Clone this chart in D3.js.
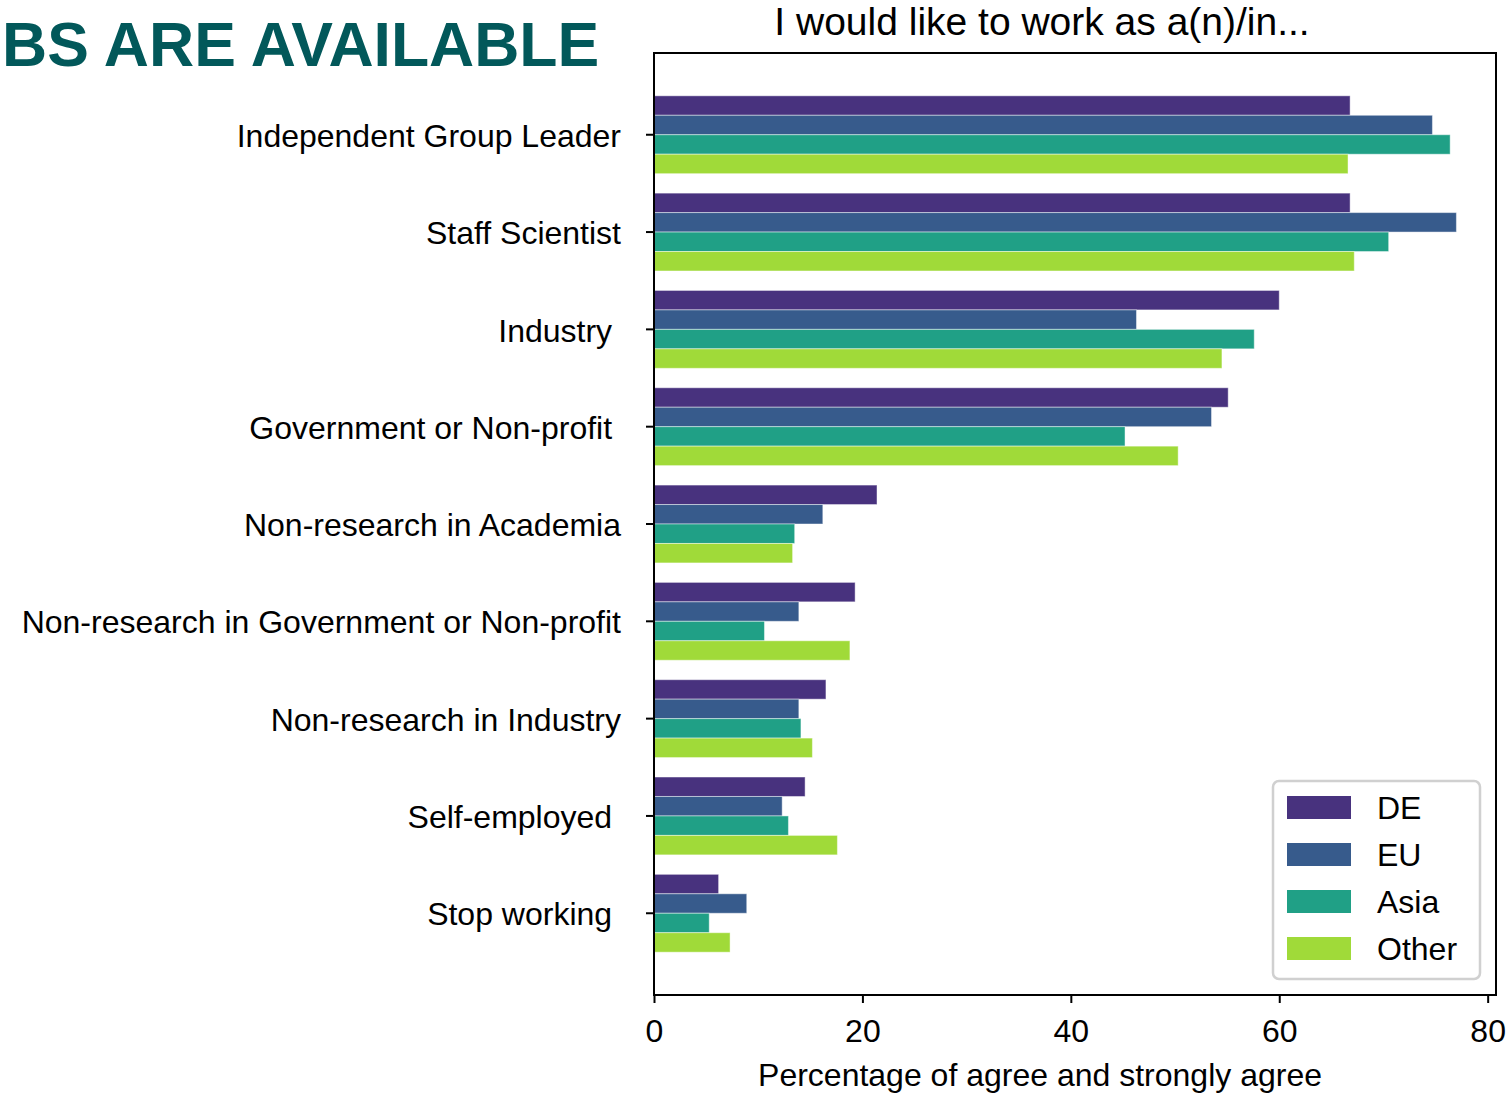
<!DOCTYPE html>
<html>
<head>
<meta charset="utf-8">
<script src="https://cdn.jsdelivr.net/npm/d3@7"></script>
<style>
  html, body { margin: 0; padding: 0; background: #fff; }
  svg text { font-family: "Liberation Sans", Arial, sans-serif; white-space: pre; }
</style>
</head>
<body>
<svg id="chart" width="1511" height="1095"></svg>
<script>
// Career preference categories (top to bottom)
const categories = [
  "Independent Group Leader",
  "Staff Scientist",
  "Industry ",
  "Government or Non-profit ",
  "Non-research in Academia",
  "Non-research in Government or Non-profit",
  "Non-research in Industry",
  "Self-employed ",
  "Stop working "
];
const seriesNames = ["DE", "EU", "Asia", "Other"];
const seriesColors = ["#48327e", "#375b8c", "#20a086", "#a0da39"];

// Percentage of agree and strongly agree, per series
const valuesDE    = [66.8, 66.8, 60.0, 55.1, 21.4, 19.3, 16.5, 14.5, 6.2];
const valuesEU    = [74.7, 77.0, 46.3, 53.5, 16.2, 13.9, 13.9, 12.3, 8.9];
const valuesAsia  = [76.4, 70.5, 57.6, 45.2, 13.5, 10.6, 14.1, 12.9, 5.3];
const valuesOther = [66.6, 67.2, 54.5, 50.3, 13.3, 18.8, 15.2, 17.6, 7.3];
const seriesValues = [valuesDE, valuesEU, valuesAsia, valuesOther];

const xTicks = [0, 20, 40, 60, 80];

const svg = d3.select("#chart");
const FS = 32;

// Plot frame
const plotLeft = 654, plotRight = 1496, plotTop = 53, plotBottom = 995;

const x = d3.scaleLinear().domain([0, 80.8]).range([plotLeft, plotRight]);
const y = d3.scaleBand().domain(categories).range([plotTop, plotBottom])
  .paddingInner(0.2).paddingOuter(0.44);
const ySub = d3.scaleBand().domain(seriesNames).range([0, y.bandwidth()]);

// Clipped heading at the top left
svg.append("text")
  .attr("x", 2).attr("y", 66)
  .attr("font-size", 62.5).attr("font-weight", "bold")
  .attr("fill", "#02585a")
  .text("BS ARE AVAILABLE");

// Bars
seriesNames.forEach((s, si) => {
  svg.append("g").selectAll("rect")
    .data(categories.map((c, ci) => ({ c, v: seriesValues[si][ci] })))
    .join("rect")
    .attr("x", x(0))
    .attr("y", d => y(d.c) + ySub(s))
    .attr("width", d => x(d.v) - x(0))
    .attr("height", ySub.bandwidth())
    .attr("fill", seriesColors[si])
    .attr("stroke", "rgba(255,255,255,0.45)")
    .attr("stroke-width", 1);
});

// Frame
svg.append("rect")
  .attr("x", plotLeft).attr("y", plotTop)
  .attr("width", plotRight - plotLeft).attr("height", plotBottom - plotTop)
  .attr("fill", "none").attr("stroke", "#000").attr("stroke-width", 2);

// Axes
const yAxis = svg.append("g")
  .attr("transform", `translate(${plotLeft},0)`)
  .call(d3.axisLeft(y).tickSize(8).tickPadding(25));
const xAxis = svg.append("g")
  .attr("transform", `translate(0,${plotBottom})`)
  .call(d3.axisBottom(x).tickValues(xTicks).tickFormat(d3.format("d")).tickSize(8).tickPadding(16));

[yAxis, xAxis].forEach(g => {
  g.select(".domain").remove();
  g.selectAll(".tick line").attr("stroke", "#000").attr("stroke-width", 2);
  g.selectAll(".tick text").attr("font-size", FS).attr("fill", "#000")
    .attr("font-family", "Liberation Sans, Arial, sans-serif");
});
yAxis.selectAll(".tick text").attr("dy", "0.38em");

// Title and axis label
svg.append("text")
  .attr("x", 1042).attr("y", 35)
  .attr("text-anchor", "middle").attr("font-size", 39)
  .text("I would like to work as a(n)/in...");
svg.append("text")
  .attr("x", 1040).attr("y", 1086)
  .attr("text-anchor", "middle").attr("font-size", FS)
  .text("Percentage of agree and strongly agree");

// Legend
const lg = svg.append("g").attr("transform", "translate(1273,781)");
lg.append("rect")
  .attr("x", 0).attr("y", 0).attr("width", 207).attr("height", 198)
  .attr("rx", 6).attr("fill", "#fff").attr("stroke", "#d0d0d0").attr("stroke-width", 2.5);
seriesNames.forEach((s, i) => {
  lg.append("rect")
    .attr("x", 14).attr("y", 15 + i * 47)
    .attr("width", 64).attr("height", 23)
    .attr("fill", seriesColors[i]);
  lg.append("text")
    .attr("x", 104).attr("y", 38 + i * 47)
    .attr("font-size", FS).text(s);
});
</script>
</body>
</html>
